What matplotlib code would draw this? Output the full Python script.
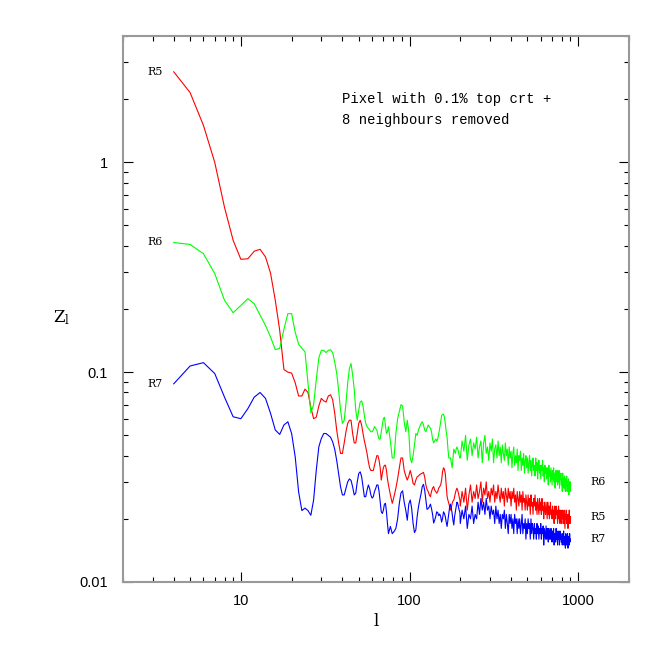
import matplotlib
matplotlib.use('Agg')
import matplotlib.pyplot as plt
from matplotlib.ticker import LogLocator, NullFormatter, FixedFormatter, FixedLocator

# multipoles: every l up to 75, every other l to 199, then every 5th l to 900
ell = list(range(4, 76)) + list(range(77, 200, 2)) + list(range(200, 901, 5))

# R5 (red)
z_r5_low = [2.7, 2.15, 1.50, 1.0, 0.61, 0.425, 0.345, 0.347, 0.377, 0.385,
            0.354, 0.296, 0.22, 0.158, 0.103, 0.100, 0.099, 0.089, 0.077, 0.077,
            0.083, 0.080, 0.068, 0.060, 0.061, 0.069, 0.075, 0.073, 0.072, 0.077,
            0.078, 0.074, 0.064, 0.053, 0.046, 0.041, 0.041, 0.046, 0.052, 0.057,
            0.059, 0.059, 0.051, 0.046, 0.046, 0.051, 0.057, 0.059, 0.056, 0.051,
            0.047, 0.044, 0.041, 0.0375, 0.035, 0.034, 0.034, 0.034, 0.036, 0.038,
            0.040, 0.040, 0.038, 0.035, 0.0306, 0.033, 0.035, 0.036, 0.036, 0.034,
            0.031, 0.029]
z_r5_mid = [0.026, 0.0237, 0.0256, 0.028, 0.031, 0.035, 0.039, 0.039, 0.034, 0.032,
            0.0306, 0.032, 0.034, 0.032, 0.0295, 0.029, 0.0306, 0.0317, 0.032, 0.0325,
            0.0328, 0.033, 0.0333, 0.0317, 0.029, 0.0276, 0.027, 0.026, 0.0255, 0.027,
            0.028, 0.0285, 0.0274, 0.027, 0.0265, 0.027, 0.028, 0.0285, 0.029, 0.0306,
            0.0335, 0.035, 0.0345, 0.0328, 0.029, 0.0256, 0.0245, 0.0237, 0.0228, 0.022,
            0.0226, 0.0237, 0.0243, 0.0245, 0.0255, 0.0265, 0.0274, 0.028, 0.0274, 0.0265,
            0.0255, 0.0245]
z_r5_high = [0.023, 0.027, 0.024, 0.028, 0.022, 0.026, 0.029, 0.024, 0.027, 0.025,
             0.029, 0.025, 0.027, 0.030, 0.024, 0.028, 0.026, 0.030, 0.025, 0.027,
             0.024, 0.028, 0.026, 0.029, 0.024, 0.027, 0.025, 0.029, 0.026, 0.024,
             0.028, 0.025, 0.027, 0.023, 0.028, 0.026, 0.024, 0.028, 0.025, 0.027,
             0.023, 0.027, 0.025, 0.028, 0.024, 0.026, 0.022, 0.027, 0.025, 0.023,
             0.027, 0.024, 0.026, 0.022, 0.027, 0.024, 0.025, 0.022, 0.026, 0.024,
             0.022, 0.026, 0.023, 0.025, 0.021, 0.026, 0.023, 0.024, 0.021, 0.025,
             0.023, 0.026, 0.022, 0.024, 0.021, 0.025, 0.023, 0.021, 0.025, 0.022,
             0.024, 0.021, 0.025, 0.022, 0.023, 0.020, 0.024, 0.022, 0.021, 0.024,
             0.022, 0.020, 0.024, 0.021, 0.023, 0.020, 0.022, 0.024, 0.021, 0.022,
             0.020, 0.023, 0.021, 0.022, 0.019, 0.023, 0.021, 0.020, 0.023, 0.021,
             0.022, 0.019, 0.021, 0.023, 0.020, 0.022, 0.019, 0.021, 0.022, 0.020,
             0.019, 0.022, 0.020, 0.021, 0.019, 0.022, 0.020, 0.018, 0.021, 0.020,
             0.022, 0.019, 0.021, 0.020, 0.018, 0.021, 0.019, 0.022, 0.020, 0.019,
             0.0205]

# R6 (green)
z_r6_low = [0.415, 0.406, 0.367, 0.295, 0.22, 0.192, 0.208, 0.224, 0.212, 0.187,
            0.167, 0.147, 0.128, 0.13, 0.16, 0.19, 0.19, 0.155, 0.136, 0.130,
            0.125, 0.089, 0.064, 0.07, 0.092, 0.117, 0.127, 0.127, 0.124, 0.127,
            0.128, 0.124, 0.112, 0.099, 0.082, 0.066, 0.057, 0.059, 0.071, 0.089,
            0.104, 0.110, 0.097, 0.083, 0.066, 0.059, 0.066, 0.072, 0.073, 0.069,
            0.062, 0.057, 0.055, 0.054, 0.053, 0.052, 0.052, 0.053, 0.055, 0.054,
            0.053, 0.050, 0.048, 0.048, 0.052, 0.056, 0.060, 0.061, 0.056, 0.051,
            0.052, 0.055]
z_r6_mid = [0.047, 0.039, 0.039, 0.051, 0.060, 0.065, 0.070, 0.069, 0.058, 0.052,
            0.059, 0.052, 0.039, 0.037, 0.040, 0.045, 0.051, 0.050, 0.053, 0.055,
            0.057, 0.058, 0.056, 0.053, 0.052, 0.054, 0.056, 0.055, 0.054, 0.052,
            0.048, 0.046, 0.047, 0.048, 0.047, 0.048, 0.051, 0.054, 0.058, 0.062,
            0.063, 0.063, 0.061, 0.057, 0.052, 0.049, 0.043, 0.039, 0.039, 0.039,
            0.037, 0.035, 0.039, 0.043, 0.042, 0.041, 0.043, 0.044, 0.043, 0.042,
            0.040, 0.039]
z_r6_high = [0.039, 0.047, 0.042, 0.050, 0.038, 0.045, 0.048, 0.040, 0.046, 0.043,
             0.049, 0.039, 0.044, 0.047, 0.037, 0.046, 0.050, 0.041, 0.044, 0.038,
             0.046, 0.042, 0.048, 0.037, 0.043, 0.045, 0.039, 0.047, 0.040, 0.044,
             0.037, 0.045, 0.041, 0.038, 0.046, 0.040, 0.043, 0.036, 0.044, 0.039,
             0.042, 0.035, 0.041, 0.044, 0.036, 0.040, 0.037, 0.043, 0.034, 0.040,
             0.038, 0.042, 0.034, 0.039, 0.036, 0.041, 0.033, 0.038, 0.040, 0.035,
             0.039, 0.033, 0.037, 0.040, 0.034, 0.038, 0.032, 0.036, 0.039, 0.034,
             0.036, 0.032, 0.039, 0.034, 0.037, 0.031, 0.035, 0.038, 0.033, 0.036,
             0.031, 0.036, 0.034, 0.038, 0.032, 0.035, 0.030, 0.036, 0.033, 0.035,
             0.031, 0.035, 0.033, 0.029, 0.036, 0.032, 0.034, 0.030, 0.035, 0.032,
             0.029, 0.034, 0.031, 0.035, 0.030, 0.033, 0.028, 0.034, 0.032, 0.030,
             0.034, 0.029, 0.032, 0.030, 0.034, 0.028, 0.032, 0.031, 0.033, 0.029,
             0.031, 0.027, 0.033, 0.029, 0.031, 0.028, 0.032, 0.030, 0.027, 0.031,
             0.029, 0.032, 0.027, 0.030, 0.028, 0.031, 0.026, 0.030, 0.029, 0.027,
             0.030]

# R7 (blue)
z_r7_low = [0.088, 0.107, 0.111, 0.0985, 0.076, 0.0613, 0.060, 0.067, 0.076, 0.080,
            0.075, 0.0636, 0.053, 0.0505, 0.056, 0.058, 0.051, 0.0395, 0.0269, 0.0219,
            0.0225, 0.0219, 0.0208, 0.0246, 0.0341, 0.0441, 0.0483, 0.051, 0.051, 0.050,
            0.049, 0.0466, 0.043, 0.038, 0.0329, 0.0284, 0.026, 0.026, 0.0279, 0.030,
            0.031, 0.0305, 0.0284, 0.026, 0.0265, 0.030, 0.0329, 0.0335, 0.0318, 0.0284,
            0.0255, 0.0255, 0.0274, 0.029, 0.0279, 0.026, 0.0251, 0.0255, 0.027, 0.0279,
            0.029, 0.029, 0.027, 0.0241, 0.0216, 0.0212, 0.022, 0.0235, 0.0237, 0.0216,
            0.019, 0.017]
z_r7_mid = [0.0184, 0.0170, 0.0174, 0.018, 0.020, 0.0237, 0.0266, 0.0272, 0.024, 0.022,
            0.0197, 0.0235, 0.0246, 0.0224, 0.019, 0.0172, 0.0177, 0.0205, 0.0228, 0.0246,
            0.0263, 0.0285, 0.0292, 0.0274, 0.0246, 0.0222, 0.0224, 0.0228, 0.0235, 0.0224,
            0.021, 0.0191, 0.0197, 0.0205, 0.0216, 0.0214, 0.0207, 0.0211, 0.0205, 0.0193,
            0.0201, 0.0216, 0.0212, 0.0205, 0.0193, 0.0184, 0.0197, 0.0212, 0.0228, 0.0235,
            0.0224, 0.0212, 0.0197, 0.0187, 0.0205, 0.0216, 0.0228, 0.024, 0.0237, 0.0228,
            0.022, 0.0214]
z_r7_high = [0.019, 0.022, 0.020, 0.023, 0.018, 0.021, 0.020, 0.023, 0.019, 0.021,
             0.020, 0.024, 0.021, 0.025, 0.022, 0.024, 0.021, 0.025, 0.022, 0.023,
             0.020, 0.023, 0.021, 0.022, 0.019, 0.023, 0.020, 0.022, 0.019, 0.021,
             0.018, 0.021, 0.020, 0.022, 0.018, 0.021, 0.019, 0.017, 0.021, 0.019,
             0.021, 0.018, 0.020, 0.017, 0.021, 0.019, 0.020, 0.017, 0.020, 0.018,
             0.020, 0.017, 0.019, 0.021, 0.017, 0.019, 0.018, 0.020, 0.016, 0.019,
             0.017, 0.020, 0.018, 0.019, 0.016, 0.020, 0.017, 0.019, 0.018, 0.016,
             0.019, 0.017, 0.018, 0.016, 0.019, 0.017, 0.0185, 0.016, 0.018, 0.017,
             0.019, 0.016, 0.018, 0.017, 0.0185, 0.015, 0.018, 0.017, 0.016, 0.0185,
             0.016, 0.018, 0.017, 0.0155, 0.018, 0.016, 0.0175, 0.016, 0.018, 0.017,
             0.0155, 0.0175, 0.016, 0.018, 0.015, 0.017, 0.0165, 0.0155, 0.018, 0.016,
             0.017, 0.015, 0.0175, 0.016, 0.0165, 0.015, 0.0175, 0.016, 0.017, 0.0155,
             0.0165, 0.015, 0.017, 0.0155, 0.0175, 0.015, 0.0165, 0.016, 0.0145, 0.017,
             0.015, 0.0165, 0.0155, 0.017, 0.0145, 0.016, 0.0165, 0.015, 0.017, 0.0155,
             0.016]

series = [
    ('R5', z_r5_low + z_r5_mid + z_r5_high, '#ff0000'),
    ('R6', z_r6_low + z_r6_mid + z_r6_high, '#00ff00'),
    ('R7', z_r7_low + z_r7_mid + z_r7_high, '#0000ff'),
]

fig = plt.figure(figsize=(6.64, 6.64), dpi=100)
ax = fig.add_axes([0.1852, 0.1235, 0.762, 0.8223])

for name, z, col in series:
    ax.plot(ell, z, color=col, lw=0.8)
    # curve names at both ends
    ax.text(3.1, z[0], name, fontsize=8, family='DejaVu Serif',
            ha='center', va='center')
    ax.text(1320, z[-1], name, fontsize=8, family='DejaVu Serif',
            ha='center', va='center')

ax.set_xscale('log')
ax.set_yscale('log')
ax.set_xlim(2, 2000)
ax.set_ylim(0.01, 4)

ax.xaxis.set_major_locator(FixedLocator([10, 100, 1000]))
ax.xaxis.set_major_formatter(FixedFormatter(['10', '100', '1000']))
ax.yaxis.set_major_locator(FixedLocator([0.01, 0.1, 1]))
ax.yaxis.set_major_formatter(FixedFormatter(['0.01', '0.1', '1']))
ax.xaxis.set_minor_locator(LogLocator(base=10, subs=range(2, 10)))
ax.yaxis.set_minor_locator(LogLocator(base=10, subs=range(2, 10)))
ax.xaxis.set_minor_formatter(NullFormatter())
ax.yaxis.set_minor_formatter(NullFormatter())

ax.tick_params(which='both', direction='in', top=True, right=True, color='black')
ax.tick_params(which='major', length=7, width=0.8, labelsize=10.5)
ax.tick_params(which='minor', length=3.5, width=0.8)
ax.tick_params(axis='y', which='major', pad=11)
ax.tick_params(axis='x', which='major', pad=9)
for lab in ax.get_xticklabels() + ax.get_yticklabels():
    lab.set_family('Liberation Sans')
for s in ax.spines.values():
    s.set_color('#999999')
    s.set_linewidth(1.5)

ax.set_xlabel('l', family='DejaVu Serif', fontsize=12, labelpad=3)
ax.set_ylabel('$\\mathregular{Z_l}$', family='DejaVu Serif', fontsize=12,
              rotation=0, ha='center', va='center')
ax.yaxis.set_label_coords(-0.121, 0.484)

ax.text(0.433, 0.8846, 'Pixel with 0.1% top crt +', transform=ax.transAxes,
        family='Liberation Mono', fontsize=10, ha='left', va='center')
ax.text(0.433, 0.8462, '8 neighbours removed', transform=ax.transAxes,
        family='Liberation Mono', fontsize=10, ha='left', va='center')

fig.savefig('out.png', dpi=100)
